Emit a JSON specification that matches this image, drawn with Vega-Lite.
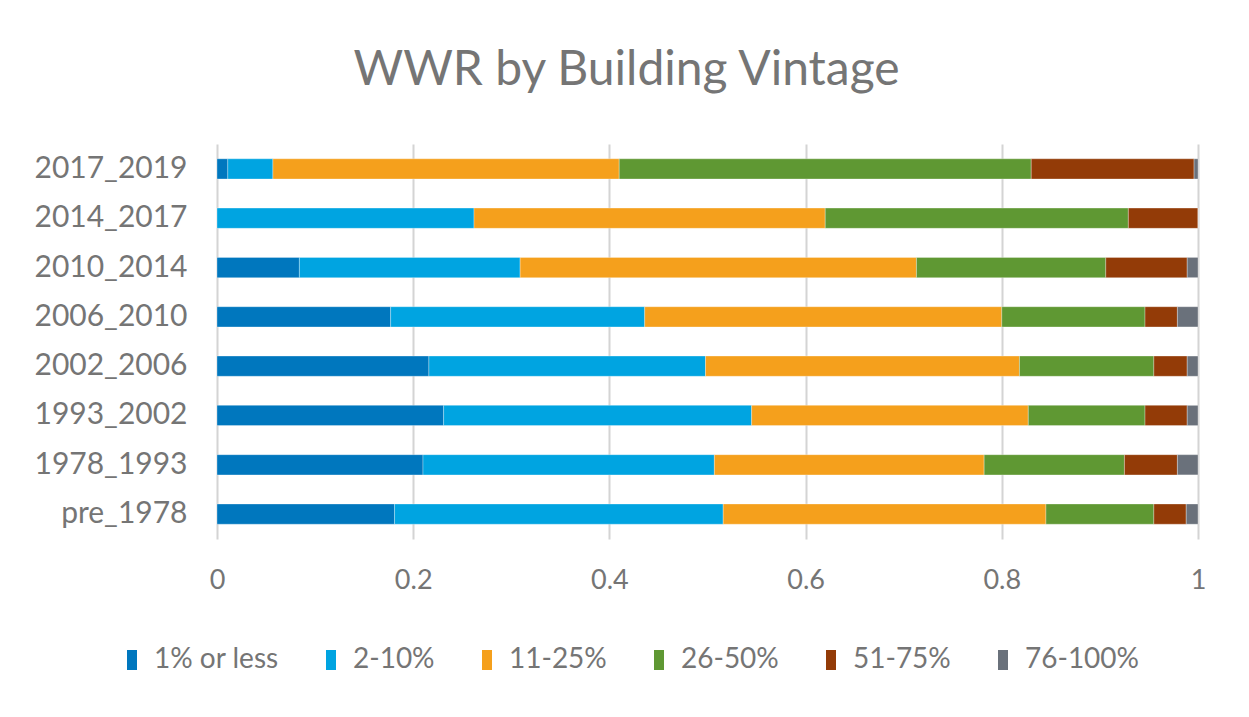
{
  "$schema": "https://vega.github.io/schema/vega-lite/v6.json",
  "width": 981,
  "height": 395,
  "autosize": "none",
  "padding": {"left": 217, "top": 144, "right": 51, "bottom": 178},
  "background": "white",
  "title": {
    "text": "WWR by Building Vintage",
    "anchor": "middle",
    "frame": "group",
    "dx": -81,
    "offset": 49,
    "font": "Lato",
    "fontSize": 48,
    "fontWeight": "normal",
    "color": "#757575"
  },
  "data": {
    "values": [
      {"v": "2017_2019", "c": "1% or less", "x": 0.011},
      {"v": "2017_2019", "c": "2-10%", "x": 0.046},
      {"v": "2017_2019", "c": "11-25%", "x": 0.353},
      {"v": "2017_2019", "c": "26-50%", "x": 0.420},
      {"v": "2017_2019", "c": "51-75%", "x": 0.166},
      {"v": "2017_2019", "c": "76-100%", "x": 0.004},
      {"v": "2014_2017", "c": "1% or less", "x": 0.0},
      {"v": "2014_2017", "c": "2-10%", "x": 0.262},
      {"v": "2014_2017", "c": "11-25%", "x": 0.358},
      {"v": "2014_2017", "c": "26-50%", "x": 0.309},
      {"v": "2014_2017", "c": "51-75%", "x": 0.071},
      {"v": "2014_2017", "c": "76-100%", "x": 0.0},
      {"v": "2010_2014", "c": "1% or less", "x": 0.084},
      {"v": "2010_2014", "c": "2-10%", "x": 0.225},
      {"v": "2010_2014", "c": "11-25%", "x": 0.404},
      {"v": "2010_2014", "c": "26-50%", "x": 0.193},
      {"v": "2010_2014", "c": "51-75%", "x": 0.083},
      {"v": "2010_2014", "c": "76-100%", "x": 0.011},
      {"v": "2006_2010", "c": "1% or less", "x": 0.177},
      {"v": "2006_2010", "c": "2-10%", "x": 0.259},
      {"v": "2006_2010", "c": "11-25%", "x": 0.364},
      {"v": "2006_2010", "c": "26-50%", "x": 0.146},
      {"v": "2006_2010", "c": "51-75%", "x": 0.033},
      {"v": "2006_2010", "c": "76-100%", "x": 0.021},
      {"v": "2002_2006", "c": "1% or less", "x": 0.216},
      {"v": "2002_2006", "c": "2-10%", "x": 0.282},
      {"v": "2002_2006", "c": "11-25%", "x": 0.320},
      {"v": "2002_2006", "c": "26-50%", "x": 0.137},
      {"v": "2002_2006", "c": "51-75%", "x": 0.034},
      {"v": "2002_2006", "c": "76-100%", "x": 0.011},
      {"v": "1993_2002", "c": "1% or less", "x": 0.231},
      {"v": "1993_2002", "c": "2-10%", "x": 0.314},
      {"v": "1993_2002", "c": "11-25%", "x": 0.282},
      {"v": "1993_2002", "c": "26-50%", "x": 0.119},
      {"v": "1993_2002", "c": "51-75%", "x": 0.043},
      {"v": "1993_2002", "c": "76-100%", "x": 0.011},
      {"v": "1978_1993", "c": "1% or less", "x": 0.210},
      {"v": "1978_1993", "c": "2-10%", "x": 0.297},
      {"v": "1978_1993", "c": "11-25%", "x": 0.275},
      {"v": "1978_1993", "c": "26-50%", "x": 0.143},
      {"v": "1978_1993", "c": "51-75%", "x": 0.054},
      {"v": "1978_1993", "c": "76-100%", "x": 0.021},
      {"v": "pre_1978", "c": "1% or less", "x": 0.181},
      {"v": "pre_1978", "c": "2-10%", "x": 0.335},
      {"v": "pre_1978", "c": "11-25%", "x": 0.329},
      {"v": "pre_1978", "c": "26-50%", "x": 0.110},
      {"v": "pre_1978", "c": "51-75%", "x": 0.033},
      {"v": "pre_1978", "c": "76-100%", "x": 0.012}
    ]
  },
  "transform": [
    {"calculate": "indexof(['1% or less','2-10%','11-25%','26-50%','51-75%','76-100%'], datum.c)", "as": "k"}
  ],
  "mark": {"type": "bar", "stroke": "white", "strokeWidth": 0.5, "strokeOpacity": 0.6},
  "encoding": {
    "y": {
      "field": "v",
      "type": "nominal",
      "sort": ["2017_2019", "2014_2017", "2010_2014", "2006_2010", "2002_2006", "1993_2002", "1978_1993", "pre_1978"],
      "scale": {"paddingInner": 0.59, "paddingOuter": 0.3},
      "axis": {
        "title": null,
        "domain": false,
        "ticks": false,
        "labelFont": "Lato",
        "labelFontSize": 30,
        "labelColor": "#757575",
        "labelPadding": 30
      }
    },
    "x": {
      "field": "x",
      "type": "quantitative",
      "stack": "zero",
      "scale": {"domain": [0, 1], "nice": false},
      "axis": {
        "title": null,
        "values": [0, 0.2, 0.4, 0.6, 0.8, 1],
        "labelExpr": "datum.value == 0 ? '0' : datum.value == 1 ? '1' : format(datum.value, '.1f')",
        "domain": false,
        "ticks": false,
        "grid": true,
        "gridColor": "#d4d4d4",
        "gridWidth": 2,
        "labelFont": "Lato",
        "labelFontSize": 27,
        "labelColor": "#757575",
        "labelPadding": 28,
        "labelFlush": false
      }
    },
    "color": {
      "field": "c",
      "type": "nominal",
      "scale": {
        "domain": ["1% or less", "2-10%", "11-25%", "26-50%", "51-75%", "76-100%"],
        "range": ["#0077BE", "#00A4E1", "#F5A01C", "#5F9833", "#933B07", "#6A717B"]
      },
      "legend": {
        "title": null,
        "orient": "none",
        "direction": "horizontal",
        "legendX": -99,
        "legendY": 502,
        "symbolType": "M-0.5,-1 h1 v2 h-1 Z",
        "symbolSize": 400,
        "symbolStrokeWidth": 0,
        "symbolOpacity": 1,
        "labelFont": "Lato",
        "labelFontSize": 28,
        "labelColor": "#757575",
        "labelOffset": 8,
        "columnPadding": 38
      }
    },
    "order": {"field": "k", "type": "quantitative"}
  },
  "config": {
    "view": {"stroke": null}
  }
}
